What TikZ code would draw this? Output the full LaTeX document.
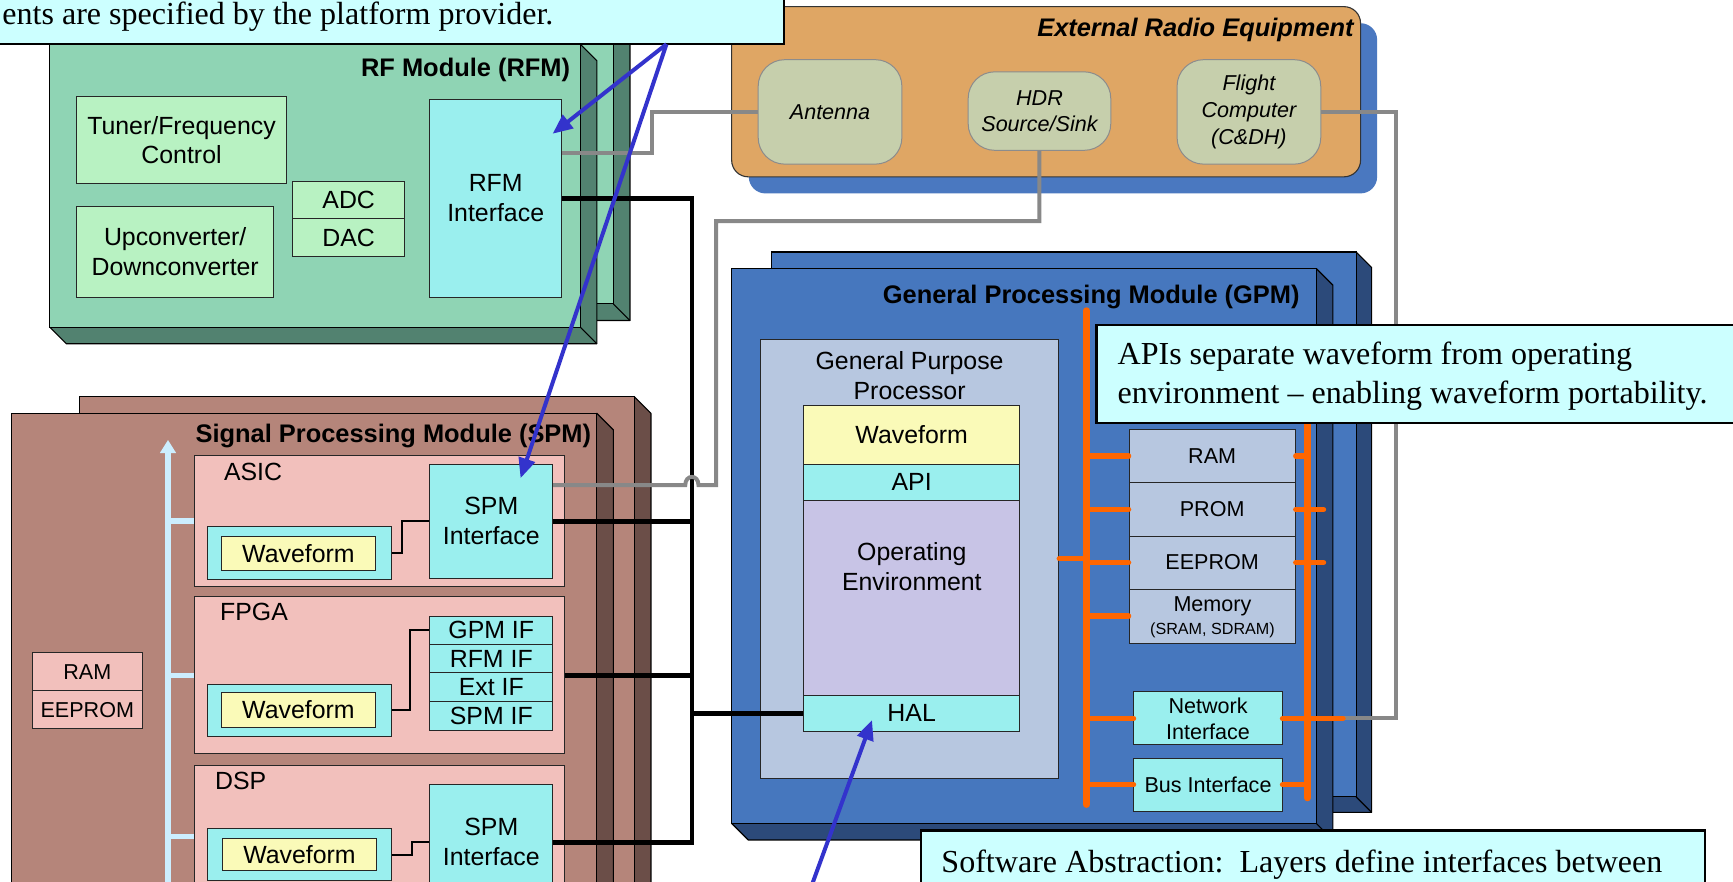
\documentclass[tikz,border=0pt]{standalone}
\usepackage{fontspec}
\setmainfont{Liberation Serif}
\setsansfont{Liberation Sans}
\usetikzlibrary{arrows.meta}
\definecolor{rfmface}{HTML}{8FD4B4}
\definecolor{rfmdark}{HTML}{528270}
\definecolor{rfmin}{HTML}{B8F2C2}
\definecolor{cyanbox}{HTML}{9AEFEE}
\definecolor{orangebox}{HTML}{DFA664}
\definecolor{shadowblue}{HTML}{4A78C0}
\definecolor{sage}{HTML}{C6CFAC}
\definecolor{gpmface}{HTML}{4677BE}
\definecolor{gpmdark}{HTML}{2C4A7A}
\definecolor{gppfill}{HTML}{B7C7E0}
\definecolor{spmface}{HTML}{B5857A}
\definecolor{spmdark}{HTML}{6B4E48}
\definecolor{pinkbox}{HTML}{F2C0BC}
\definecolor{wfyellow}{HTML}{FAFAB8}
\definecolor{osfill}{HTML}{C8C4E6}
\definecolor{callout}{HTML}{CCFFFF}
\definecolor{arrowblue}{HTML}{3333CC}
\definecolor{busorange}{HTML}{FF6600}
\definecolor{wiregray}{HTML}{888888}
\definecolor{lightarrow}{HTML}{CCEEFF}
\newcommand\mybox[7]{\node[#6, minimum width={(#4-(#2))*1pt}, minimum height={(#5-(#3))*1pt}] (#1) at ({(#2+#4)/2},{(#3+#5)/2}) {#7};}
\newcommand\mkslab[7]{%
  \filldraw[fill=#7, draw=black, line width=1pt, line join=round] (#3,#2) -- ({#3+#5},{#2+#5}) -- ({#3+#5},{#4+#5}) -- ({#1+#5},{#4+#5}) -- (#1,#4) -- cycle;
  \draw[black, line width=1pt] (#3,#4) -- ({#3+#5},{#4+#5});
  \filldraw[fill=#6, draw=black, line width=1pt] (#1,#2) rectangle (#3,#4);}
\tikzset{
 bxbase/.style={draw=black!85, line width=0.9pt, inner sep=0pt, align=center, font=\sffamily\fontsize{22.5}{27}\selectfont},
 bxgreen/.style={bxbase, fill=rfmin},
 bxcyan/.style={bxbase, fill=cyanbox},
 bxyellow/.style={bxbase, fill=wfyellow},
 bxpink/.style={bxbase, fill=pinkbox},
 sfbig/.style={font=\sffamily\fontsize{22.5}{27}\selectfont, inner sep=0pt, align=center},
 sfsmall/.style={font=\sffamily\fontsize{19.5}{23.5}\selectfont},
 bxmem/.style={bxbase, fill=gppfill, sfsmall},
 bxsage/.style={draw=black!45, line width=0.9pt, fill=sage, rounded corners=24pt, inner sep=0pt, align=center, font=\sffamily\itshape\fontsize{19.5}{24}\selectfont},
 ttlfont/.style={font=\sffamily\bfseries\fontsize{23}{27}\selectfont, inner sep=0pt},
 callbox/.style={draw=black, line width=2pt, fill=callout, inner sep=0pt},
 calltext/.style={font=\rmfamily\fontsize{29}{34}\selectfont, inner sep=0pt},
 graywire/.style={draw=wiregray, line width=3.6pt},
 blackwire/.style={draw=black, line width=4.3pt},
 thinwire/.style={draw=black, line width=1.8pt},
 obus/.style={draw=busorange, line width=6pt, line cap=round},
 ostub/.style={draw=busorange, line width=5pt, line cap=round},
 blarrow/.style={draw=arrowblue, line width=3.6pt, -{Triangle[length=18pt,width=15pt]}},
 lbwire/.style={draw=lightarrow, line width=5pt},
}
\begin{document}
\begin{tikzpicture}[x=1pt,y=-1pt]
\useasboundingbox (0,0) rectangle (1568,798);
\clip (0,0) rectangle (1568,798);
\fill[white] (0,0) rectangle (1568,798);
% ---------- RF Module ----------
\mkslab{60}{25}{555}{275}{15}{rfmface}{rfmdark}
\mkslab{45}{40}{525}{296}{15}{rfmface}{rfmdark}
\node[ttlfont, anchor=base east] (rfmttl) at (516,69) {RF Module (RFM)};
\mybox{tuner}{69.5}{87.5}{259}{166}{bxgreen}{Tuner/Frequency\\Control}
\mybox{updown}{69.5}{187}{247.5}{269}{bxgreen}{Upconverter/\\Downconverter}
\mybox{adc}{265}{164.5}{366}{198}{bxgreen}{ADC}
\mybox{dac}{265}{198}{366}{231.7}{bxgreen}{DAC}
\mybox{rfmif}{389}{89.6}{508}{269}{bxcyan}{RFM\\Interface}
% ---------- External Radio Equipment ----------
\fill[shadowblue, rounded corners=15pt] (677.5,21) rectangle (1246,175);
\filldraw[fill=orangebox, draw=black!80, line width=1pt, rounded corners=15pt] (662,6) rectangle (1231,160);
\node[font=\sffamily\bfseries\itshape\fontsize{23}{27}\selectfont, inner sep=0pt, anchor=base east] (extttl) at (1225,32.6) {External Radio Equipment};
\mybox{ant}{686}{54}{816}{148.5}{bxsage}{Antenna}
\mybox{hdr}{876}{65}{1005}{136}{bxsage}{HDR\\Source/Sink}
\mybox{flight}{1065}{54}{1195}{148.5}{bxsage}{Flight\\Computer\\(C\&DH)}
% ---------- GPM ----------
\mkslab{698}{228}{1227}{721}{14}{gpmface}{gpmdark}
\mkslab{662}{243}{1191}{745}{15}{gpmface}{gpmdark}
\node[ttlfont, anchor=base east] (gpmttl) at (1176,274.5) {General Processing Module (GPM)};
\mybox{gpp}{688}{307}{958}{704}{bxbase, fill=gppfill}{}
\node[sfbig] (gpptxt) at (823,340) {General Purpose\\Processor};
\mybox{gwf}{727}{367}{922.7}{420}{bxyellow}{Waveform}
\mybox{api}{727}{420}{922.7}{452.5}{bxcyan}{API}
\mybox{os}{727}{452.5}{922.7}{629}{bxbase, fill=osfill}{}
\node[sfbig] (ostxt) at (825,513) {Operating\\Environment};
\mybox{hal}{727}{629}{922.7}{661.5}{bxcyan}{HAL}
\coordinate (busL) at (983,281);
\coordinate (busR) at (1183,300);
\coordinate (nb) at (1215,650);
\draw[graywire] (flight.east) -- (1263,101.25) -- (1263,650) -- (nb);
\draw[obus] (busL) -- (983,728);
\draw[obus] (busR) -- (1183,722);
\mybox{mram}{1021.5}{388.5}{1172}{436.8}{bxmem}{RAM}
\mybox{mprom}{1021.5}{436.8}{1172}{485}{bxmem}{PROM}
\mybox{meeprom}{1021.5}{485}{1172}{533}{bxmem}{EEPROM}
\mybox{mmem}{1021.5}{533}{1172}{582}{bxmem}{}
\node[sfsmall, inner sep=0pt, anchor=base] (mmemA) at (1097,553.5) {Memory};
\node[font=\sffamily\fontsize{14.6}{17}\selectfont, inner sep=0pt, anchor=base] (mmemB) at (1097,574.5) {(SRAM, SDRAM)};
\mybox{netif}{1026}{626}{1160}{674}{bxcyan, sfsmall}{Network\\Interface}
\mybox{busif}{1026}{686}{1160}{734}{bxcyan, sfsmall}{Bus Interface}
\foreach \n in {mram,mprom,meeprom,mmem,netif,busif} {\draw[ostub] (\n.west) -- (\n.west -| busL);}
\draw[ostub] (gpp.east) -- (gpp.east -| busL);
\draw[ostub] (mram.east) -- (mram.east -| busR);
\draw[ostub] (mprom.east) -- ++(25,0);
\draw[ostub] (meeprom.east) -- ++(25,0);
\draw[ostub] (busif.east) -- (busif.east -| busR);
\draw[ostub] (netif.east) -- (nb);
% ---------- SPM ----------
\mkslab{72}{359}{574}{900}{15}{spmface}{spmdark}
\mkslab{10.5}{374}{540}{900}{15}{spmface}{spmdark}
\node[ttlfont, anchor=base east] (spmttl) at (535,400) {Signal Processing Module (SPM)};
\mybox{sram}{29}{590.6}{129}{625}{bxpink, sfsmall}{RAM}
\mybox{seeprom}{29}{625}{129}{659.5}{bxpink, sfsmall}{EEPROM}
\mybox{asic}{176}{412}{511}{531}{bxpink}{}
\node[sfbig, anchor=base west] (asictxt) at (202.5,434.5) {ASIC};
\mybox{asicif}{389}{420}{500}{523}{bxcyan}{SPM\\Interface}
\mybox{asicwfo}{188}{476.6}{354}{524}{bxcyan}{}
\mybox{asicwf}{200}{485.6}{340}{516}{bxyellow}{Waveform}
\mybox{fpga}{176}{540}{511}{682}{bxpink}{}
\node[sfbig, anchor=base west] (fpgatxt) at (199,561) {FPGA};
\mybox{gpmifb}{389}{557.5}{500}{583}{bxcyan}{GPM IF}
\mybox{rfmifb}{389}{583}{500}{608.7}{bxcyan}{RFM IF}
\mybox{extif}{389}{608.7}{500}{634.3}{bxcyan}{Ext IF}
\mybox{spmifb}{389}{634.3}{500}{660.5}{bxcyan}{SPM IF}
\mybox{fpgawfo}{188}{619}{354}{666}{bxcyan}{}
\mybox{fpgawf}{200}{627}{340}{658}{bxyellow}{Waveform}
\mybox{dsp}{176}{693}{511}{821}{bxpink}{}
\node[sfbig, anchor=base west] (dsptxt) at (194.5,714) {DSP};
\mybox{dspif}{389}{710}{500}{814}{bxcyan}{SPM\\Interface}
\mybox{dspwfo}{188}{750}{354}{797}{bxcyan}{}
\mybox{dspwf}{201}{758.5}{341}{788}{bxyellow}{Waveform}
\draw[thinwire] (asicwfo.east) -- ++(9,0) |- (asicif.west);
\draw[thinwire] (fpgawfo.east) -- ++(16.6,0) |- (gpmifb.west);
\draw[thinwire] (dspwfo.east) -- ++(18.5,0) |- (dspif.west);
\coordinate (lbtop) at (152,398);
\coordinate (lbbot) at (152,805);
\draw[lbwire, -{Triangle[length=12pt,width=14pt]}] (lbbot) -- (lbtop);
\draw[lbwire] (lbtop |- asic.west) -- (asic.west);
\draw[lbwire] (lbtop |- fpga.west) -- (fpga.west);
\draw[lbwire] (lbtop |- dsp.west) -- (dsp.west);
% ---------- wires ----------
\coordinate (trT) at (626,179.3);
\draw[blackwire] (rfmif.east) -- (trT) -- (trT |- dspif.east) -- (dspif.east);
\draw[blackwire] (asicif.east) -- (asicif.east -| trT);
\draw[blackwire] (fpga.east) -- (fpga.east -| trT);
\draw[blackwire] (hal.west -| trT) -- (hal.west);
\draw[graywire] ([yshift=41.3pt]rfmif.east) -- (590,138) -- (590,101.25) -- (ant.west);
\coordinate (g2a) at (940.5,200);
\coordinate (g2b) at (648,200);
\coordinate (g2c) at (648,439);
\draw[graywire] (hdr.south) -- (g2a) -- (g2b) -- (g2c) -- (632,439) .. controls (632,429) and (620,429) .. (620,439) -- (asicif.east |- g2c);
% ---------- callouts ----------
\mybox{cotop}{-5}{-5}{709}{39.5}{callbox}{}
\node[calltext, anchor=base west] (cotoptxt) at (2,22.6) {ents are specified by the platform provider.};
\mybox{coapi}{992}{294}{1585}{382.5}{callbox}{}
\node[calltext, anchor=base west] (coapi1) at (1011,330) {APIs separate waveform from operating};
\node[calltext, anchor=base west] (coapi2) at (1011,365) {environment -- enabling waveform portability.};
\mybox{cosw}{833}{751.5}{1543}{815}{callbox}{}
\node[calltext, anchor=base west] (coswtxt) at (851.6,789.7) {Software Abstraction:\ \ Layers define interfaces between};
\coordinate (cA) at (603,40);
\coordinate (tipR) at (500,121);
\coordinate (tipS) at (471,432.6);
\draw[blarrow] (cA) -- (tipR);
\draw[blarrow] (cA) -- (tipS);
\coordinate (hB) at (733,805);
\coordinate (tipH) at (789,651.5);
\draw[blarrow] (hB) -- (tipH);
\end{tikzpicture}
\end{document}
